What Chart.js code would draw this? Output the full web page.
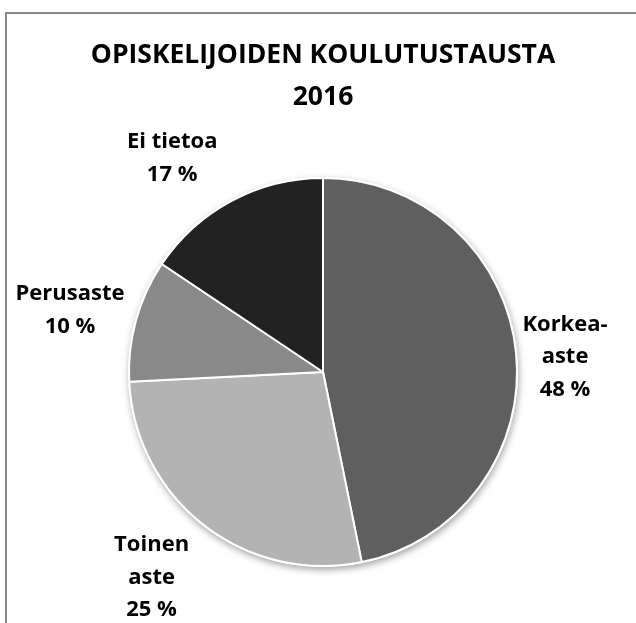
<!DOCTYPE html>
<html>
<head>
<meta charset="utf-8">
<script src="https://cdn.jsdelivr.net/npm/chart.js@4.4.1/dist/chart.umd.min.js"></script>
<style>
  html, body { margin: 0; padding: 0; background: #fff; }
  #wrap { width: 636px; height: 623px; }
</style>
</head>
<body>
<div id="wrap"><canvas id="pie" width="636" height="623"></canvas></div>
<script>
// data
var categories = ['Korkea-aste', 'Toinen aste', 'Perusaste', 'Ei tietoa'];
var shares = [46.8, 27.4, 10.2, 15.6];           // slice sizes as drawn
var percentLabels = ['48 %', '25 %', '10 %', '17 %'];
var labelLines = [['Korkea-', 'aste'], ['Toinen', 'aste'], ['Perusaste'], ['Ei tietoa']];
var sliceColors = ['#5f5f5f', '#b3b3b3', '#898989', '#222222'];

var FONT = "'Open Sans', 'DejaVu Sans', sans-serif";

// grey frame around the chart (cut at right and bottom)
var framePlugin = {
    id: 'frame',
    beforeDraw: function (chart) {
        var ctx = chart.ctx;
        ctx.save();
        ctx.strokeStyle = '#878787';
        ctx.lineWidth = 2;
        ctx.strokeRect(6, 13, 800, 800);
        ctx.restore();
    }
};

// soft shadow under the pie
var shadowPlugin = {
    id: 'pieShadow',
    beforeDatasetsDraw: function (chart) {
        var arc = chart.getDatasetMeta(0).data[0];
        if (!arc) return;
        var ctx = chart.ctx;
        ctx.save();
        ctx.shadowColor = 'rgba(0,0,0,0.35)';
        ctx.shadowBlur = 7;
        ctx.shadowOffsetY = 3;
        ctx.shadowOffsetX = 1;
        ctx.fillStyle = '#fff';
        ctx.beginPath();
        ctx.arc(arc.x, arc.y, arc.outerRadius + 1, 0, Math.PI * 2);
        ctx.fill();
        ctx.restore();
    }
};

// data labels outside the slices
var labelPlugin = {
    id: 'outLabels',
    afterDatasetsDraw: function (chart, args, opts) {
        var ctx = chart.ctx;
        var meta = chart.getDatasetMeta(0);
        ctx.save();
        ctx.font = 'bold ' + opts.size + 'px ' + FONT;
        ctx.fillStyle = '#000';
        ctx.textAlign = 'center';
        ctx.textBaseline = 'middle';
        meta.data.forEach(function (arc, i) {
            var mid = (arc.startAngle + arc.endAngle) / 2;
            var px = arc.x + Math.cos(mid) * arc.outerRadius;
            var py = arc.y + Math.sin(mid) * arc.outerRadius;
            var lines = labelLines[i].concat([percentLabels[i]]);
            var cx = px + opts.nudge[i][0];
            var cy = py + opts.nudge[i][1];
            var top = cy - (lines.length - 1) * opts.lineHeight / 2;
            lines.forEach(function (t, k) {
                ctx.fillText(t, cx, top + k * opts.lineHeight);
            });
        });
        ctx.restore();
    }
};

var ctx = document.getElementById('pie').getContext('2d');
var myChart = new Chart(ctx, {
    type: 'pie',
    data: {
        labels: categories,
        datasets: [{
            data: shares,
            backgroundColor: sliceColors,
            borderColor: '#ffffff',
            borderWidth: 2
        }]
    },
    options: {
        responsive: false,
        animation: false,
        layout: {
            padding: { left: 15, right: 5, top: 12, bottom: 56 }
        },
        plugins: {
            legend: { display: false },
            tooltip: { enabled: false },
            title: {
                display: true,
                text: ['OPISKELIJOIDEN KOULUTUSTAUSTA', '2016'],
                color: '#000',
                font: { family: FONT, size: 26.5, weight: 'bold', lineHeight: 1.585 },
                padding: { top: 22, bottom: 59 }
            },
            outLabels: {
                size: 22,
                lineHeight: 32.5,
                nudge: [[49, 4.5], [-52.5, 52], [-66, -10], [-59.5, -42.5]]
            }
        }
    },
    plugins: [framePlugin, shadowPlugin, labelPlugin]
});
</script>
</body>
</html>
